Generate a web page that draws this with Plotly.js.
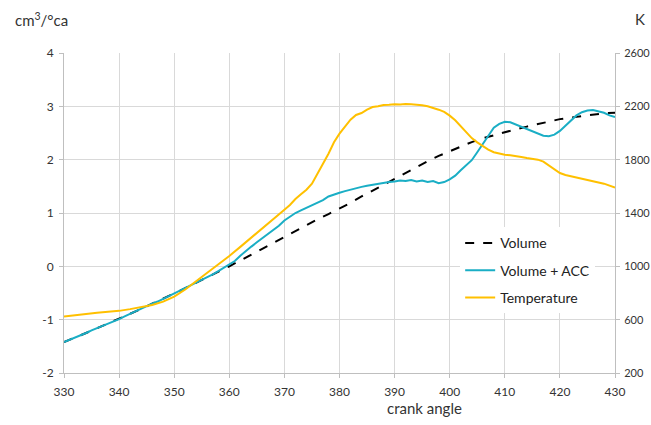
<!DOCTYPE html>
<html>
<head>
<meta charset="utf-8">
<script src="https://cdn.plot.ly/plotly-3.0.1.min.js"></script>
<style>
  html, body { margin: 0; padding: 0; background: #ffffff; }
  #chart { width: 651px; height: 425px; }
</style>
</head>
<body>
<div id="chart"></div>
<script>
// Volume curve (cm3/°ca), crank angle in degrees
const volumeAngle = [330, 332, 334, 336, 338, 340, 342, 344, 346, 348, 350, 352, 354, 356, 358, 360,
  362, 364, 366, 368, 370, 372, 374, 376, 378, 380, 382, 384, 386, 388, 390, 392, 394, 396, 398, 400,
  402, 404, 406, 408, 410, 412, 414, 416, 418, 420, 422, 424, 426, 428, 430];
const volumeValue = [-1.42, -1.34, -1.25, -1.16, -1.07, -0.99, -0.89, -0.80, -0.70, -0.61, -0.51, -0.41, -0.31, -0.21, -0.10, 0.00,
  0.11, 0.22, 0.34, 0.45, 0.56, 0.67, 0.78, 0.88, 0.98, 1.08, 1.19, 1.31, 1.42, 1.54, 1.65, 1.76, 1.87, 1.97, 2.07, 2.16,
  2.25, 2.33, 2.40, 2.46, 2.52, 2.57, 2.62, 2.67, 2.72, 2.76, 2.79, 2.82, 2.85, 2.87, 2.88];

// Volume + ACC (cm3/°ca)
const accAngle = [330, 331, 332, 333, 334, 335, 336, 337, 338, 339, 340, 341, 342, 343, 344, 345, 346, 347, 348, 349,
  350, 351, 352, 353, 354, 355, 356, 357, 358, 359, 360, 361, 362, 363, 364, 365, 366, 367, 368, 369,
  370, 371, 372, 373, 374, 375, 376, 377, 378, 379, 380, 381, 382, 383, 384, 385, 386, 387, 388, 389,
  390, 391, 392, 393, 394, 395, 396, 397, 398, 399, 400, 401, 402, 403, 404, 405, 406, 407, 408, 409,
  410, 411, 412, 413, 414, 415, 416, 417, 418, 419, 420, 421, 422, 423, 424, 425, 426, 427, 428, 429, 430];
const accValue = [-1.42, -1.38, -1.34, -1.29, -1.25, -1.20, -1.16, -1.12, -1.07, -1.03, -0.99, -0.94, -0.89, -0.85, -0.80, -0.75, -0.70, -0.66, -0.61, -0.56,
  -0.51, -0.46, -0.41, -0.36, -0.31, -0.26, -0.21, -0.15, -0.09, -0.03, 0.03, 0.10, 0.20, 0.29, 0.37, 0.45, 0.53, 0.60, 0.68, 0.76,
  0.86, 0.93, 1.00, 1.05, 1.10, 1.15, 1.19, 1.24, 1.31, 1.35, 1.38, 1.41, 1.44, 1.46, 1.49, 1.51, 1.53, 1.55, 1.56, 1.58,
  1.59, 1.61, 1.60, 1.62, 1.59, 1.61, 1.58, 1.60, 1.56, 1.58, 1.63, 1.70, 1.80, 1.90, 1.99, 2.14, 2.30, 2.46, 2.60, 2.67,
  2.71, 2.70, 2.66, 2.62, 2.58, 2.54, 2.50, 2.45, 2.44, 2.47, 2.54, 2.64, 2.74, 2.83, 2.89, 2.92, 2.93, 2.91, 2.88, 2.83, 2.80];

// Gas temperature (K)
const tempAngle = [330, 332, 334, 336, 338, 340, 342, 344, 346, 348, 350, 352, 354, 356, 358, 360, 362, 364, 366, 368,
  370, 371, 372, 373, 374, 375, 376, 377, 378, 379, 380, 381, 382, 383, 384, 385, 386, 387, 388, 389,
  390, 391, 392, 393, 394, 395, 396, 397, 398, 399, 400, 401, 402, 403, 404, 405, 406, 407, 408, 409,
  410, 411, 412, 413, 414, 415, 416, 417, 418, 419, 420, 421, 422, 424, 426, 428, 430];
const tempValue = [624, 635, 644, 652, 659, 666, 679, 694, 710, 735, 773, 826, 888, 950, 1014, 1078, 1146, 1215, 1280, 1350,
  1425, 1460, 1505, 1540, 1575, 1620, 1690, 1770, 1845, 1930, 1995, 2045, 2100, 2135, 2150, 2175, 2195, 2200, 2210, 2212,
  2216, 2214, 2218, 2215, 2214, 2208, 2200, 2190, 2175, 2158, 2130, 2095, 2050, 2000, 1962, 1930, 1902, 1876, 1856, 1844,
  1837, 1833, 1828, 1820, 1812, 1806, 1800, 1785, 1758, 1725, 1700, 1685, 1675, 1660, 1640, 1620, 1590];

const xTicks = [330, 340, 350, 360, 370, 380, 390, 400, 410, 420, 430];
const leftTicks = [-2, -1, 0, 1, 2, 3, 4];
const rightTicks = [200, 600, 1000, 1400, 1800, 2200, 2600];

const FONT = 'Lato, "Open Sans", sans-serif';
const GRID = '#d9d9d9';
const AXIS = '#bfbfbf';

const traces = [
  {
    x: volumeAngle, y: volumeValue, name: 'Volume', type: 'scatter', mode: 'lines',
    line: { color: '#000000', width: 2, dash: 'dash' }, legendgroup: 'a'
  },
  {
    x: accAngle, y: accValue, name: 'Volume + ACC', type: 'scatter', mode: 'lines',
    line: { color: '#1aaec5', width: 2 }, legendgroup: 'b'
  },
  {
    x: tempAngle, y: tempValue, name: 'Temperature', type: 'scatter', mode: 'lines', yaxis: 'y2',
    line: { color: '#ffc000', width: 2 }, legendgroup: 'c'
  }
];

const layout = {
  width: 651, height: 425,
  margin: { l: 64, r: 36, t: 53, b: 52 },
  paper_bgcolor: '#ffffff', plot_bgcolor: '#ffffff',
  font: { family: FONT, size: 12, color: '#333333' },
  showlegend: true,
  legend: {
    x: 0.719, y: 0.455, xanchor: 'left', yanchor: 'top',
    bgcolor: '#ffffff', borderwidth: 0,
    font: { family: FONT, size: 14, color: '#222222' },
    tracegroupgap: 6
  },
  xaxis: {
    range: [330, 430], tickvals: xTicks, ticktext: xTicks.map(String),
    showgrid: true, gridcolor: GRID, gridwidth: 1,
    showline: true, linecolor: AXIS, linewidth: 1,
    ticks: 'outside', ticklen: 4, tickcolor: AXIS, ticklabelstandoff: 4,
    zeroline: false, fixedrange: true,
    tickfont: { family: FONT, size: 12, color: '#333333' }
  },
  yaxis: {
    range: [-2, 4], tickvals: leftTicks, ticktext: leftTicks.map(String),
    showgrid: true, gridcolor: GRID, gridwidth: 1,
    showline: true, linecolor: AXIS, linewidth: 1,
    ticks: 'outside', ticklen: 4, tickcolor: AXIS, ticklabelstandoff: 3,
    zeroline: false, fixedrange: true,
    tickfont: { family: FONT, size: 12, color: '#333333' }
  },
  yaxis2: {
    overlaying: 'y', side: 'right',
    range: [200, 2600], tickvals: rightTicks, ticktext: rightTicks.map(String),
    showgrid: false, showline: true, linecolor: AXIS, linewidth: 1,
    ticks: 'outside', ticklen: 4, tickcolor: AXIS, ticklabelstandoff: 2,
    zeroline: false, fixedrange: true,
    tickfont: { family: FONT, size: 11, color: '#333333' }
  },
  annotations: [
    {
      text: 'cm<sup>3</sup>/°ca', xref: 'paper', yref: 'paper',
      x: -0.092, y: 1.105, xanchor: 'left', yanchor: 'middle', showarrow: false,
      font: { family: FONT, size: 15, color: '#333333' }
    },
    {
      text: 'K', xref: 'paper', yref: 'paper',
      x: 1.046, y: 1.105, xanchor: 'center', yanchor: 'middle', showarrow: false,
      font: { family: FONT, size: 15, color: '#333333' }
    },
    {
      text: 'crank angle', xref: 'paper', yref: 'paper',
      x: 0.655, y: -0.11, xanchor: 'center', yanchor: 'middle', showarrow: false,
      font: { family: FONT, size: 15, color: '#333333' }
    }
  ]
};

Plotly.newPlot('chart', traces, layout, { staticPlot: true, displayModeBar: false });
</script>
</body>
</html>
